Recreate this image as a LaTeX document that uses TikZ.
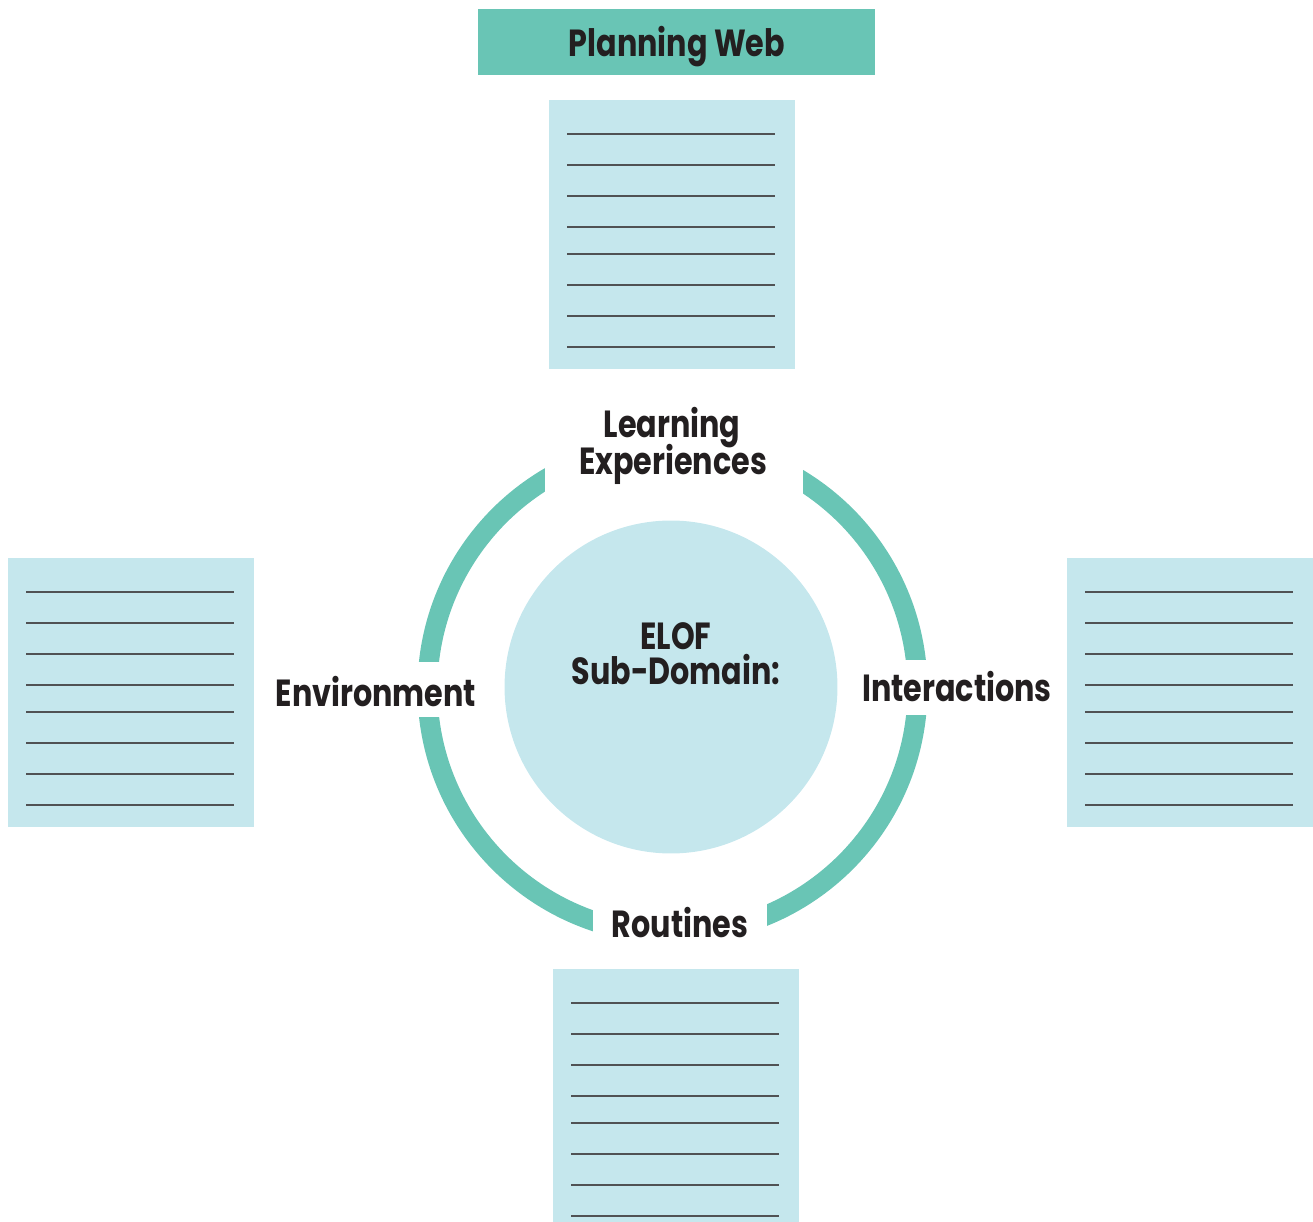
\documentclass[tikz,border=0pt]{standalone}
\usepackage{fontspec}
\usetikzlibrary{calc}
\setmainfont{Poppins}
\newfontfamily\narrowfont[FakeStretch=0.8]{Poppins}
\definecolor{myteal}{RGB}{105,197,181}
\definecolor{mylight}{RGB}{197,231,237}
\definecolor{myline}{RGB}{80,82,84}
\definecolor{mytext}{RGB}{35,31,32}
\begin{document}
\begin{tikzpicture}[x=0.02cm,y=-0.02cm,
  sheet/.style={fill=mylight, draw=none, minimum width=4.92cm, minimum height=5.38cm, inner sep=0pt, outer sep=0pt},
  rule/.style={myline, line width=1.5pt},
  lbl/.style={text=mytext, font=\narrowfont\fontsize{21.5}{21.5}\selectfont\bfseries, inner sep=0pt, align=center},
  gap/.style={fill=white, draw=none}]
\useasboundingbox (0,0) rectangle (1313,1222);
\begin{scope}
\clip (0,0) rectangle (1313,1222);
% title
\node[fill=myteal, minimum width=7.94cm, minimum height=1.32cm, inner sep=0pt] (title) at (676.5,42) {};
\node[lbl, anchor=base] (titletext) at (677,57) {Planning Web};
% sheets
\node[sheet, anchor=north west] (top) at (549,100) {};
\node[sheet, anchor=north west] (left) at (8,558) {};
\node[sheet, anchor=north west] (right) at (1067,558) {};
\node[sheet, anchor=north west] (bottom) at (553,969) {};
\foreach \s in {top,left,right,bottom}{
  \foreach \o in {34,65,96,127,154,185,216,247}{
    \draw[rule] ($(\s.north west)+(18,\o)$) -- ($(\s.north west)+(226,\o)$);
  }
}
% ring
\draw[myteal, line width=0.4cm] (672.5,689) circle[radius=245];
\fill[gap] (545,415) rectangle (803,505);
\fill[gap] (593,880) rectangle (767,960);
\fill[gap] (395,662) rectangle (460,717);
\fill[gap] (885,660) rectangle (950,715);
% centre
\node[circle, fill=mylight, minimum size=6.66cm, inner sep=0pt] (core) at (671,687) {};
\node[lbl, anchor=base] (elof) at (676,650) {ELOF};
\node[lbl, anchor=base] (sub) at (676,685) {Sub-Domain:};
% labels
\node[lbl, anchor=base] (learn) at (672,438) {Learning};
\node[lbl, anchor=base] (exp) at (673,475) {Experiences};
\node[lbl, anchor=base] (env) at (376,707) {Environment};
\node[lbl, anchor=base] (inter) at (957,702) {Interactions};
\node[lbl, anchor=base] (rout) at (680,938) {Routines};
\end{scope}
\end{tikzpicture}
\end{document}
